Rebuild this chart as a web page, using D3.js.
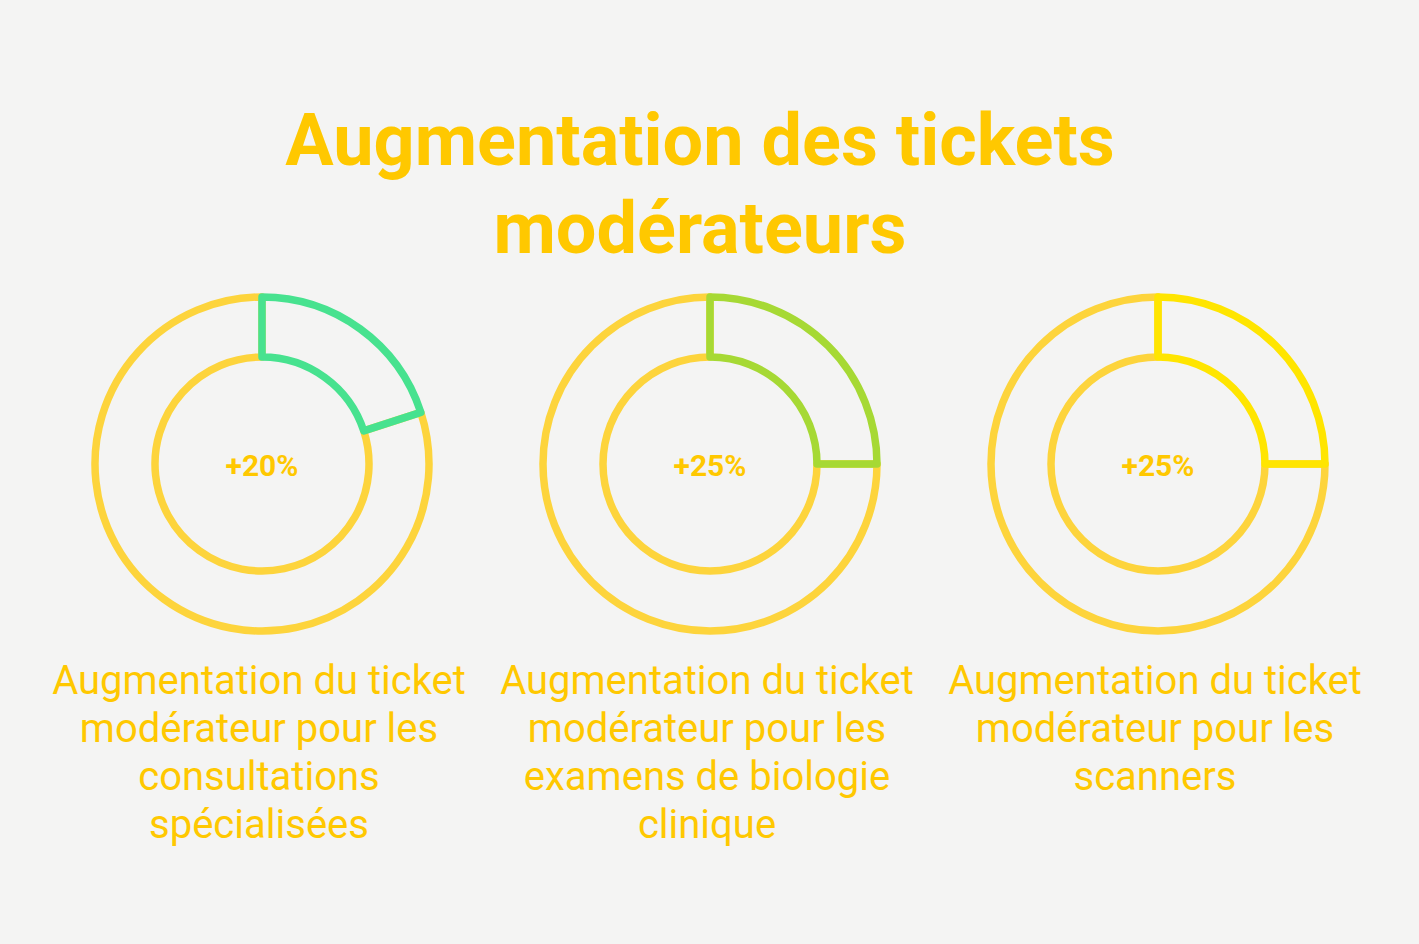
<!DOCTYPE html>
<html>
<head>
<meta charset="utf-8">
<script src="https://cdn.jsdelivr.net/npm/d3@7"></script>
<style>
  html, body { margin: 0; padding: 0; background: #f4f4f3; }
  svg { display: block; }
</style>
</head>
<body>
<svg id="chart" width="1419" height="944"></svg>
<script>
// ---- data ----
const titleLines = ["Augmentation des tickets", "modérateurs"];
const categories = ["consultations", "biologie", "scanners"];
const values = [20, 25, 25];               // % increase
const centerLabels = ["+20%", "+25%", "+25%"];
const labelLines = [
  ["Augmentation du ticket", "modérateur pour les", "consultations", "spécialisées"],
  ["Augmentation du ticket", "modérateur pour les", "examens de biologie", "clinique"],
  ["Augmentation du ticket", "modérateur pour les", "scanners"]
];
const highlightColors = ["#47e28f", "#a6d934", "#ffe500"];
const restColor = "#fdd43c";
const textColor = "#ffc800";

// ---- layout ----
const W = 1419, H = 944;
const svg = d3.select("#chart");
svg.append("rect").attr("width", W).attr("height", H).attr("fill", "#f4f4f3");

// title
svg.append("g").selectAll("text").data(titleLines).join("text")
  .attr("x", 700)
  .attr("y", (d, i) => 165 + i * 88)
  .attr("text-anchor", "middle")
  .attr("font-family", "Roboto")
  .attr("font-weight", 700)
  .attr("font-size", 72)
  .attr("fill", textColor)
  .text(d => d);

const x = d3.scaleBand().domain(categories).range([38, 38 + 448 * 3]);
const cy = 464;
const outerR = 167, innerR = 107;

const arc = d3.arc().innerRadius(innerR).outerRadius(outerR);
const pie = d3.pie().sort(null).value(d => d.v);

categories.forEach((c, i) => {
  const cx = x(c) + x.bandwidth() / 2;
  const g = svg.append("g").attr("transform", `translate(${cx},${cy})`);
  const slices = pie([{v: values[i], k: "hi"}, {v: 100 - values[i], k: "rest"}]);
  // draw rest first, highlight on top
  g.append("g").selectAll("path").data([slices[1], slices[0]]).join("path")
    .attr("d", arc)
    .attr("fill", "none")
    .attr("stroke", d => d.data.k === "hi" ? highlightColors[i] : restColor)
    .attr("stroke-width", 7.5)
    .attr("stroke-linejoin", "round");

  g.append("text")
    .attr("x", 0).attr("y", 12)
    .attr("text-anchor", "middle")
    .attr("font-family", "Roboto")
    .attr("font-weight", 700)
    .attr("font-size", 30)
    .attr("fill", textColor)
    .text(centerLabels[i]);

  svg.append("g").selectAll("text").data(labelLines[i]).join("text")
    .attr("x", cx - 3)
    .attr("y", (d, j) => 694 + j * 48)
    .attr("text-anchor", "middle")
    .attr("font-family", "Roboto")
    .attr("font-weight", 400)
    .attr("font-size", 40)
    .attr("fill", textColor)
    .text(d => d);
});
</script>
</body>
</html>
